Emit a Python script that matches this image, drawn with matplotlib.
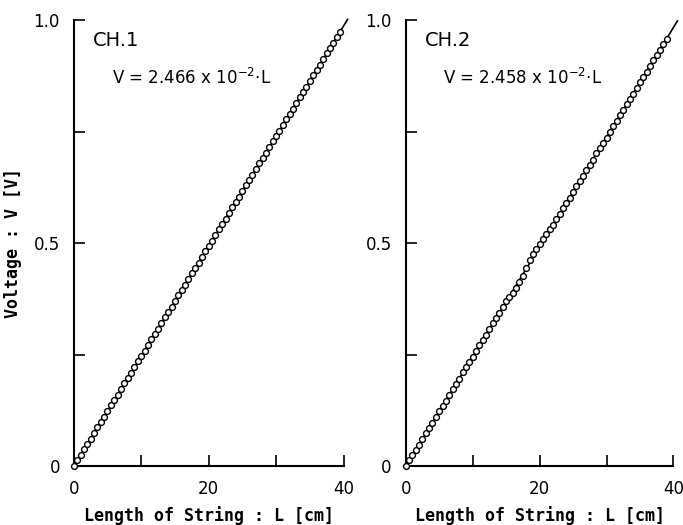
import matplotlib.pyplot as plt
import numpy as np

# measured points, channel 1
L1 = [0.0, 0.5, 1.0, 1.5, 2.0, 2.5, 3.0, 3.5, 4.0, 4.5, 5.0, 5.5, 6.0, 6.5, 7.0, 7.5,
      8.0, 8.5, 9.0, 9.5, 10.0, 10.5, 11.0, 11.5, 12.0, 12.5, 13.0, 13.5, 14.0, 14.5,
      15.0, 15.5, 16.0, 16.5, 17.0, 17.5, 18.0, 18.5, 19.0, 19.5, 20.0, 20.5, 21.0,
      21.5, 22.0, 22.5, 23.0, 23.5, 24.0, 24.5, 25.0, 25.5, 26.0, 26.5, 27.0, 27.5,
      28.0, 28.5, 29.0, 29.5, 30.0, 30.5, 31.0, 31.5, 32.0, 32.5, 33.0, 33.5, 34.0,
      34.5, 35.0, 35.5, 36.0, 36.5, 37.0, 37.5, 38.0, 38.5, 39.0, 39.5]
V1 = [0.000, 0.013, 0.025, 0.038, 0.049, 0.061, 0.074, 0.087, 0.099, 0.110, 0.123,
      0.137, 0.148, 0.159, 0.173, 0.186, 0.197, 0.209, 0.222, 0.235, 0.247, 0.258,
      0.271, 0.285, 0.296, 0.307, 0.321, 0.334, 0.345, 0.357, 0.370, 0.383, 0.395,
      0.406, 0.419, 0.433, 0.444, 0.455, 0.469, 0.482, 0.493, 0.505, 0.518, 0.531,
      0.543, 0.554, 0.567, 0.581, 0.592, 0.603, 0.617, 0.630, 0.641, 0.653, 0.666,
      0.679, 0.690, 0.702, 0.715, 0.728, 0.740, 0.751, 0.764, 0.778, 0.789, 0.800,
      0.814, 0.827, 0.838, 0.850, 0.863, 0.876, 0.888, 0.899, 0.912, 0.926, 0.937,
      0.948, 0.962, 0.974]

# measured points, channel 2
L2 = [0.0, 0.5, 1.0, 1.5, 2.0, 2.5, 3.0, 3.5, 4.0, 4.5, 5.0, 5.5, 6.0, 6.5, 7.0, 7.5,
      8.0, 8.5, 9.0, 9.5, 10.0, 10.5, 11.0, 11.5, 12.0, 12.5, 13.0, 13.5, 14.0, 14.5,
      15.0, 15.5, 16.0, 16.5, 17.0, 17.5, 18.0, 18.5, 19.0, 19.5, 20.0, 20.5, 21.0,
      21.5, 22.0, 22.5, 23.0, 23.5, 24.0, 24.5, 25.0, 25.5, 26.0, 26.5, 27.0, 27.5,
      28.0, 28.5, 29.0, 29.5, 30.0, 30.5, 31.0, 31.5, 32.0, 32.5, 33.0, 33.5, 34.0,
      34.5, 35.0, 35.5, 36.0, 36.5, 37.0, 37.5, 38.0, 38.5, 39.0]
V2 = [0.000, 0.013, 0.026, 0.037, 0.048, 0.062, 0.075, 0.086, 0.097, 0.111, 0.124,
      0.135, 0.146, 0.160, 0.173, 0.184, 0.196, 0.210, 0.222, 0.233, 0.245, 0.259,
      0.271, 0.282, 0.294, 0.308, 0.321, 0.332, 0.343, 0.357, 0.370, 0.379, 0.388,
      0.400, 0.413, 0.427, 0.445, 0.463, 0.475, 0.487, 0.499, 0.510, 0.521, 0.531,
      0.541, 0.553, 0.566, 0.578, 0.589, 0.602, 0.615, 0.627, 0.638, 0.651, 0.664,
      0.676, 0.687, 0.701, 0.714, 0.725, 0.736, 0.750, 0.763, 0.774, 0.786, 0.799,
      0.812, 0.823, 0.835, 0.848, 0.861, 0.873, 0.884, 0.897, 0.910, 0.922, 0.933,
      0.946, 0.958]

slopes = [2.466e-2, 2.458e-2]
names = ["CH.1", "CH.2"]
eqs = [r"V = 2.466 x 10$^{-2}$$\cdot$L", r"V = 2.458 x 10$^{-2}$$\cdot$L"]

fig = plt.figure(figsize=(6.83, 5.25), dpi=100)
ax1 = fig.add_axes([0.108, 0.112, 0.395, 0.850])
ax2 = fig.add_axes([0.594, 0.112, 0.392, 0.850])

mono = "DejaVu Sans Mono"

for ax, L, V, k, name, eq in zip([ax1, ax2], [L1, L2], [V1, V2], slopes, names, eqs):
    Lfit = np.array([0.0, 40.6])
    ax.plot(Lfit, k * Lfit, color="black", lw=1.2, clip_on=False, zorder=2)
    ax.plot(L, V, "o", mfc="white", mec="black", ms=4.2, mew=1.0, clip_on=False, zorder=3)
    ax.set_xlim(0, 40)
    ax.set_ylim(0, 1.0)
    for s in ["top", "right"]:
        ax.spines[s].set_visible(False)
    ax.spines["left"].set_linewidth(1.5)
    ax.spines["bottom"].set_linewidth(1.5)
    ax.set_xticks([0, 10, 20, 30, 40], ["0", "", "20", "", "40"])
    ax.set_yticks([0, 0.25, 0.5, 0.75, 1.0], ["0", "", "0.5", "", "1.0"])
    ax.tick_params(direction="in", length=8, width=1.2, labelsize=12, pad=10)
    ax.set_xlabel("Length of String : L [cm]", family=mono, fontsize=12, fontweight="bold", labelpad=6)
    ax.text(0.07, 0.955, name, transform=ax.transAxes, fontsize=14, va="center")
    ax.text(0.14, 0.87, eq, transform=ax.transAxes, fontsize=12, va="center")

ax1.set_ylabel("Voltage : V [V]", family=mono, fontsize=12, fontweight="bold", labelpad=8)

fig.savefig("out.png", dpi=100)
